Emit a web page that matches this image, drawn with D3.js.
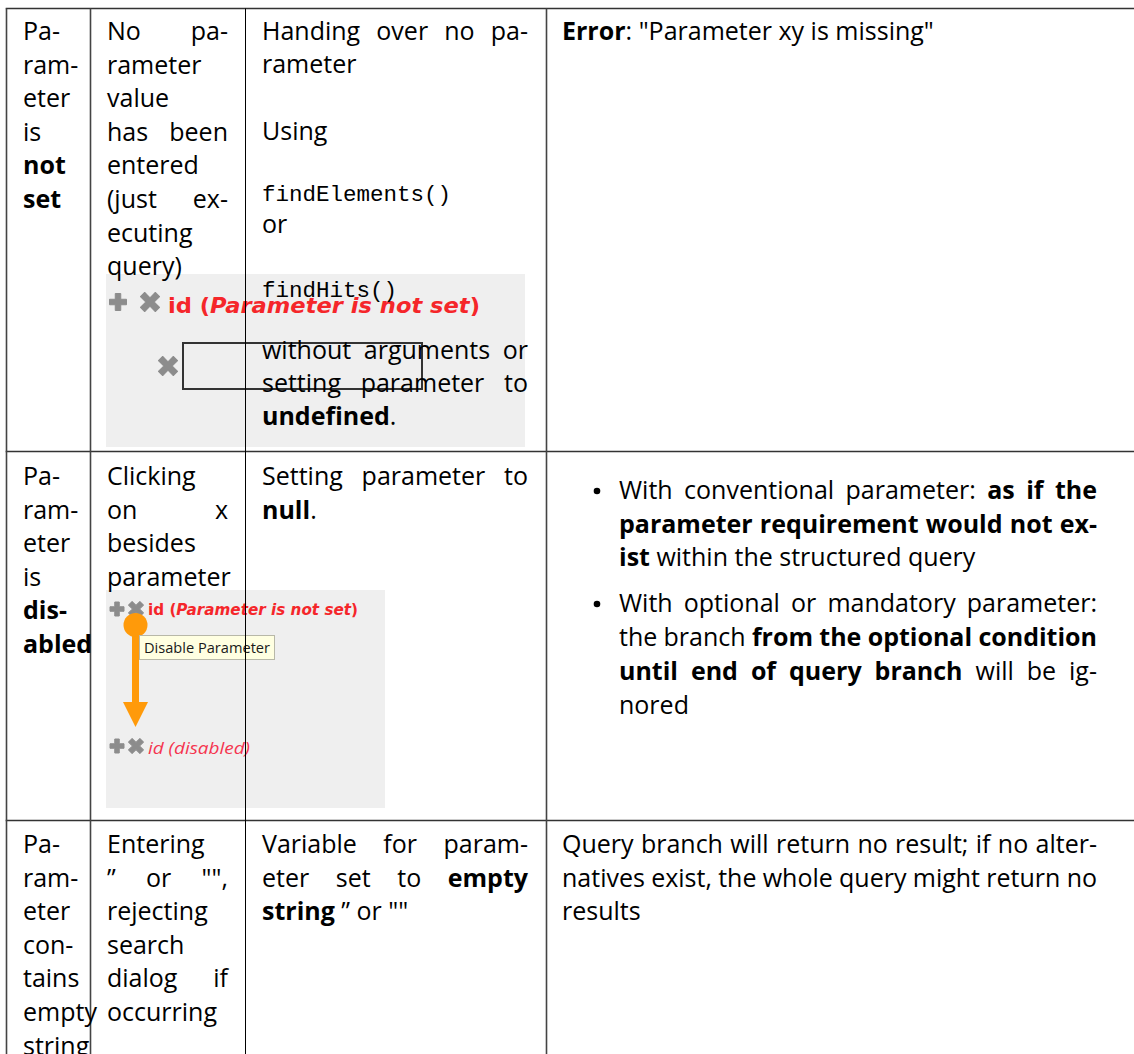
<!DOCTYPE html>
<html><head><meta charset="utf-8">
<script src="https://cdn.jsdelivr.net/npm/d3@7"></script>
<style>
html,body{margin:0;padding:0;background:#fff;}
svg{display:block;}
</style></head><body>
<svg id="c" width="1134" height="1054"></svg>
<script>
// ================= DATA (cell contents) =================
// **…** = bold, `…` = monospace line. Each cell = list of paragraphs, each paragraph = list of lines.
const conditions = [
  [["Pa-","ram-","eter","is","**not**","**set**"]],
  [["Pa-","ram-","eter","is","**dis-**","**abled**"]],
  [["Pa-","ram-","eter","con-","tains","empty","string"]]
];
const userActions = [
  [["No pa-","rameter","value","has been","entered","(just ex-","ecuting","query)"]],
  [["Clicking","on x","besides","parameter"]],
  [["Entering","\u201D or \"\",","rejecting","search","dialog if","occurring"]]
];
const codeActions = [
  [["Handing over no pa-","rameter"],["Using"],["`findElements()`"],["or"],["`findHits()`"],
   ["without arguments or","setting parameter to","**undefined**."]],
  [["Setting parameter to","**null**."]],
  [["Variable for param-","eter set to **empty**","**string** \u201D or \"\""]]
];
const results = [
  [["**Error**: \"Parameter xy is missing\""]],
  [["With conventional parameter:  **as if the**","**parameter requirement would not ex-**","**ist** within the structured query"],
   ["With optional or mandatory parameter:","the branch **from the optional condition**","**until end of query branch** will be ig-","nored"]],
  [["Query branch will return no result; if no alter-","natives exist, the whole query might return no","results"]]
];
const bulletedRow = 1;
// screenshot labels
const shotLabel1 = ["id (", "Parameter is not set", ")"];
const shotTooltip = "Disable Parameter";
const shotLabel2 = "id (disabled)";

// ================= LAYOUT =================
const W = 1134, H = 1054;
const FS = 25, LH = 33.6;
const svg = d3.select("#c");
const gridX = d3.scaleOrdinal().domain(["left","c1","c2","c3"]).range([6.5, 90.5, 245.5, 546.5]);
const gridY = d3.scaleOrdinal().domain(["top","r1","r2"]).range([8.5, 451.5, 820.5]);
const textCols = [[23, 82], [107, 228], [262, 528], [562, 1097]];
const rowBase = [40, 485, 853];
// special baseline lists
const code1Baselines = [40, 73, 140, 201, 233, 297, 359, 392, 425];
const bulletBaselines = [499, 533, 566, 612, 646, 680, 714];
const bulletX = 597, bulletTextX = 619;

const gImg = svg.append("g");
const gGrid = svg.append("g");
const gText = svg.append("g");

// ---------- screenshots ----------
function cross(g, cx, cy, s, t, rot, fill) {
  const a = s / 2, b = t / 2;
  g.append("path")
    .attr("d", `M${-b},${-a}H${b}V${-b}H${a}V${b}H${b}V${a}H${-b}V${b}H${-a}V${-b}H${-b}Z`)
    .attr("transform", `translate(${cx},${cy}) rotate(${rot})`)
    .attr("fill", fill).attr("stroke", fill).attr("stroke-width", 1).attr("stroke-linejoin", "round");
}
// shot 1
gImg.append("rect").attr("x", 106).attr("y", 274).attr("width", 419).attr("height", 173).attr("fill", "#efefef");
cross(gImg, 118, 302, 17, 5.5, 0, "#8c8c8c");
cross(gImg, 150, 302, 21, 6, 45, "#8c8c8c");
{
  const t = gImg.append("text").attr("x", 168).attr("y", 313)
    .attr("font-family", "DejaVu Sans").attr("font-weight", 700).attr("font-size", 22)
    .attr("fill", "#f5262a").attr("textLength", 312).attr("lengthAdjust", "spacingAndGlyphs");
  t.append("tspan").text(shotLabel1[0]);
  t.append("tspan").attr("font-style", "italic").text(shotLabel1[1]);
  t.append("tspan").text(shotLabel1[2]);
}
cross(gImg, 168, 366, 21, 6, 45, "#8c8c8c");
gImg.append("rect").attr("x", 183).attr("y", 343).attr("width", 239).attr("height", 46)
  .attr("fill", "none").attr("stroke", "#333").attr("stroke-width", 2);

// shot 2
gImg.append("rect").attr("x", 106).attr("y", 590).attr("width", 279).attr("height", 218).attr("fill", "#efefef");
cross(gImg, 117, 609, 14, 4.5, 0, "#8c8c8c");
cross(gImg, 136, 609, 16, 5, 45, "#8c8c8c");
{
  const t = gImg.append("text").attr("x", 148).attr("y", 615)
    .attr("font-family", "DejaVu Sans").attr("font-weight", 700).attr("font-size", 15)
    .attr("fill", "#f5262a").attr("textLength", 210).attr("lengthAdjust", "spacingAndGlyphs");
  t.append("tspan").text(shotLabel1[0]);
  t.append("tspan").attr("font-style", "italic").text(shotLabel1[1]);
  t.append("tspan").text(shotLabel1[2]);
}
gImg.append("line").attr("x1", 135.5).attr("x2", 135.5).attr("y1", 625).attr("y2", 706)
  .attr("stroke", "#ff9a0a").attr("stroke-width", 7);
gImg.append("circle").attr("cx", 135.5).attr("cy", 625).attr("r", 12).attr("fill", "#ff9a0a");
gImg.append("path").attr("d", "M123,702L148,702L135.5,727Z").attr("fill", "#ff9a0a");
gImg.append("rect").attr("x", 139.5).attr("y", 635.5).attr("width", 135).attr("height", 24)
  .attr("fill", "#ffffe1").attr("stroke", "#b8b8a8").attr("stroke-width", 1);
gImg.append("text").attr("x", 144).attr("y", 653).attr("font-family", "Open Sans").attr("font-size", 14.5)
  .attr("fill", "#1a1a1a").attr("textLength", 126).attr("lengthAdjust", "spacingAndGlyphs").text(shotTooltip);
cross(gImg, 117, 746, 14, 4.5, 0, "#8c8c8c");
cross(gImg, 136, 746, 16, 5, 45, "#8c8c8c");
gImg.append("text").attr("x", 148).attr("y", 754).attr("font-family", "Open Sans").attr("font-style", "italic")
  .attr("font-size", 16).attr("fill", "#f5354f").attr("textLength", 102).attr("lengthAdjust", "spacingAndGlyphs")
  .text(shotLabel2);

// ---------- grid ----------
const hLines = ["top", "r1", "r2"];
gGrid.selectAll("line.h").data(hLines).join("line")
  .attr("x1", gridX("left") - 0.8).attr("x2", W).attr("y1", d => gridY(d)).attr("y2", d => gridY(d))
  .attr("stroke", "#333").attr("stroke-width", 1.6);
const vLines = [{k: "left", w: 1.6, c: "#444"}, {k: "c1", w: 1.6, c: "#444"}, {k: "c2", w: 1, c: "#000"}, {k: "c3", w: 1.6, c: "#444"}];
gGrid.selectAll("line.v").data(vLines).join("line")
  .attr("x1", d => gridX(d.k)).attr("x2", d => gridX(d.k)).attr("y1", gridY("top")).attr("y2", H)
  .attr("stroke", d => d.c).attr("stroke-width", d => d.w);

// ---------- text ----------
function parse(str) {
  const segs = []; let bold = false;
  str.split("**").forEach((p, i) => { if (i > 0) bold = !bold; segs.push({t: p, b: bold}); });
  const words = []; let cur = [];
  segs.forEach(s => {
    s.t.split(" ").forEach((w, j) => {
      if (j > 0) { if (cur.length) words.push(cur); cur = []; }
      if (w.length) cur.push({t: w, b: s.b});
    });
  });
  if (cur.length) words.push(cur);
  return words;
}
const probe = gText.append("text").attr("font-family", "Open Sans").attr("font-size", FS);
probe.text("n n"); const w1 = probe.node().getComputedTextLength();
probe.text("nn"); const w2 = probe.node().getComputedTextLength();
probe.remove();
const SPACE = w1 - w2;

function drawLine(str, x0, x1, y, justify) {
  if (str.startsWith("`")) {
    gText.append("text").attr("x", x0).attr("y", y).attr("font-family", "Liberation Mono")
      .attr("font-size", 22.5).attr("fill", "#000").text(str.replace(/`/g, ""));
    return;
  }
  const words = parse(str);
  const nodes = words.map(w => {
    const t = gText.append("text").attr("y", y).attr("font-family", "Open Sans").attr("font-size", FS).attr("fill", "#000");
    w.forEach(s => t.append("tspan").attr("font-weight", s.b ? 700 : 400).text(s.t));
    return t;
  });
  const widths = nodes.map(n => n.node().getComputedTextLength());
  let gap = SPACE;
  if (justify && words.length > 1) gap = (x1 - x0 - d3.sum(widths)) / (words.length - 1);
  let x = x0;
  nodes.forEach((n, i) => { n.attr("x", x); x += widths[i] + gap; });
}
function drawCell(paras, x0, x1, baselines) {
  let k = 0;
  paras.forEach(p => p.forEach((line, i) => {
    drawLine(line, x0, x1, baselines[k++], i < p.length - 1);
  }));
}
const uniform = (r, n) => d3.range(n).map(i => rowBase[r] + i * LH);
const nLines = c => d3.sum(c, p => p.length);

[conditions, userActions, codeActions, results].forEach((col, ci) => {
  col.forEach((cell, ri) => {
    const [x0, x1] = textCols[ci];
    if (ci === 3 && ri === bulletedRow) {
      let k = 0;
      cell.forEach(p => {
        gText.append("circle").attr("cx", bulletX).attr("cy", bulletBaselines[k] - 8).attr("r", 3.3).attr("fill", "#000");
        p.forEach((line, i) => drawLine(line, bulletTextX, x1, bulletBaselines[k++], i < p.length - 1));
      });
      return;
    }
    const bl = (ci === 2 && ri === 0) ? code1Baselines : uniform(ri, nLines(cell));
    drawCell(cell, x0, x1, bl);
  });
});
</script>
</body></html>
